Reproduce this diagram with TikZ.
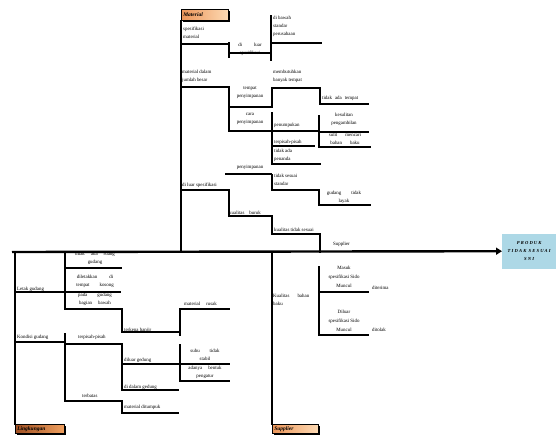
\documentclass[tikz,border=0pt]{standalone}
\usepackage{fontspec}
\setmainfont{Liberation Serif}
\usetikzlibrary{shadows,arrows.meta}
\definecolor{peachL}{RGB}{236,150,90}
\definecolor{peachR}{RGB}{253,218,180}
\definecolor{brownL}{RGB}{160,80,35}
\definecolor{brownR}{RGB}{240,160,95}
\definecolor{effblue}{RGB}{173,216,230}
\begin{document}
\begin{tikzpicture}[x=1pt,y=-1pt,
  ln/.style={line width=1.4pt, line cap=rect},
  thk/.style={line width=2pt, line cap=rect},
  tx/.style={font=\fontsize{4.9}{8}\selectfont, inner sep=0pt, anchor=north west, align=left},
  txc/.style={font=\fontsize{4.9}{8}\selectfont, inner sep=0pt, anchor=north, align=center},
  catbox/.style={draw=black, line width=0.7pt, inner sep=0pt, anchor=north west,
     font=\fontsize{5.5}{6}\selectfont\bfseries\itshape,
     drop shadow={fill=black, opacity=1, shadow xshift=1.2pt, shadow yshift=-1.2pt}},
]
\useasboundingbox (0,0) rectangle (556,434);

% ---------- category boxes ----------
\node[catbox, left color=peachL, right color=peachR, minimum width=47pt, minimum height=11pt,
  text width=45pt, align=left] (mat) at (181,9) {\,Material};
\node[catbox, left color=brownL, right color=brownR, minimum width=49pt, minimum height=9pt,
  text width=47pt, align=left] (ling) at (15,424) {\,Lingkungan};
\node[catbox, left color=peachL, right color=peachR, minimum width=46pt, minimum height=9pt,
  text width=44pt, align=left] (sup) at (272,424) {\,Supplier};
\node[fill=effblue, draw=effblue, minimum width=54pt, minimum height=34pt, inner sep=0pt,
  anchor=north west, align=center,
  font=\fontsize{4.6}{8}\selectfont\bfseries\itshape\addfontfeatures{LetterSpace=25}] (eff) at (502,234)
  {PRODUK\\TIDAK SESUAI\\SNI};

% ---------- spine ----------
\coordinate (sp0) at (12,252);
\draw[line width=2.4pt, -{Triangle[length=6pt,width=7pt]}] (sp0) -- (eff.west);

% ---------- Material branch ----------
\draw[ln] (mat.south west) -- (181,252);
\draw[ln] (181,44) -- (228,44);
\draw[ln] (229,43) -- (229,57);
\draw[ln] (229,53) -- (270,53);
\draw[ln] (271,16) -- (271,60);
\draw[thk] (273,43) -- (321,43);

\draw[ln] (181,87) -- (229,87);
\draw[ln] (229,87) -- (229,131);
\draw[ln] (229,107) -- (271,107);
\draw[ln] (272,88) -- (272,107);
\draw[ln] (272,88) -- (320,88);
\draw[ln] (320,88) -- (320,104);
\draw[ln] (320,104) -- (368,104);

\draw[ln] (229,131) -- (271,131);
\draw[ln] (272,113) -- (272,164);
\draw[ln] (272,131) -- (319,131);
\draw[ln] (319,116) -- (319,147);
\draw[ln] (320,132) -- (368,132);
\draw[ln] (320,147) -- (370,147);
\draw[ln] (272,146) -- (314,146);
\draw[ln] (272,164) -- (320,164);

\draw[ln] (226,174) -- (271,174);
\draw[ln] (272,175) -- (272,190);
\draw[ln] (272,190) -- (319,190);
\draw[ln] (319,190) -- (319,205);
\draw[ln] (319,205) -- (370,205);

\draw[ln] (181,190) -- (229,190);
\draw[ln] (229,190) -- (229,216);
\draw[ln] (229,216) -- (272,216);
\draw[ln] (272,216) -- (272,234);
\draw[ln] (272,234) -- (320,234);
\draw[ln] (320,234) -- (320,252);

% ---------- Lingkungan branch ----------
\draw[ln] (ling.north west) -- (15,252);
\draw[ln] (15,292) -- (63,292);
\draw[ln] (65,252) -- (65,309);
\draw[line width=2.6pt] (65,268) -- (122,268);
\draw[ln] (65,292) -- (120,292);
\draw[ln] (65,309) -- (122,309);
\draw[ln] (122,309) -- (122,332);
\draw[ln] (122,332) -- (178,332);
\draw[ln] (180,309) -- (180,335);
\draw[ln] (180,309) -- (229,309);

\draw[ln] (15,342) -- (63,342);
\draw[ln] (65,334) -- (65,401);
\draw[ln] (65,344) -- (122,344);
\draw[ln] (122,344) -- (122,390);
\draw[ln] (122,364) -- (178,364);
\draw[ln] (122,390) -- (178,390);
\draw[ln] (65,401) -- (120,401);
\draw[ln] (122,401) -- (122,413);
\draw[ln] (122,413) -- (178,413);
\draw[ln] (180,345) -- (180,381);
\draw[ln] (180,364) -- (229,364);
\draw[ln] (180,381) -- (229,381);

% ---------- Supplier branch ----------
\draw[ln] (sup.north west) -- (272,252);
\draw[ln] (319,267) -- (319,335);
\draw[ln] (319,292) -- (368,292);
\draw[ln] (319,335) -- (368,335);

% ---------- texts: Material ----------
\node[tx] (t1) at (183,26.5) {spesifikasi\\material};
\node[txc] (t2) at (250,43) {di\hspace{12pt}luar\\spesifikasi};
\node[tx] (t3) at (273,15.5) {di bawah\\standar\\perusahaan};
\node[tx] (t4) at (182,69.5) {material dalam\\jumlah besar};
\node[txc] (t5) at (250,86.5) {tempat\\penyimpanan};
\node[tx] (t6) at (273,69.5) {membutuhkan\\banyak tempat};
\node[tx] (t7) at (322,95.5) {tidak\hspace{3pt}ada\hspace{3pt}tempat};
\node[txc] (t8) at (250,113) {cara\\penyimpanan};
\node[tx] (t9) at (274,122.5) {penumpukan};
\node[txc] (t10) at (344,113) {kesulitan\\pengambilan};
\node[txc] (t11) at (345,133) {sulit\hspace{8pt}mencari\\bahan\hspace{8pt}baku};
\node[tx] (t12) at (274,139.5) {terpisah-pisah};
\node[tx] (t13) at (274,149) {tidak ada\\penanda};
\node[txc] (t14) at (250,165.5) {penyimpanan};
\node[tx] (t15) at (274,174) {tidak sesuai\\standar};
\node[txc] (t16) at (344,190.5) {gudang\hspace{10pt}tidak\\layak};
\node[tx] (t17) at (182,182.5) {di luar spesifikasi};
\node[tx] (t18) at (229,210.5) {kualitas\hspace{5pt}buruk};
\node[tx] (t19) at (274,227.5) {kualitas tidak sesuai};
\node[tx] (t20) at (333,241.5) {Supplier};

% ---------- texts: Lingkungan ----------
\node[txc] (t21) at (95,251.5) {tidak\hspace{6pt}ada\hspace{6pt}ruang\\gudang};
\node[txc] (t22) at (95,275) {diletakkan\hspace{12pt}di\\tempat\hspace{10pt}kosong};
\node[txc] (t23) at (95,292.5) {pada\hspace{10pt}gudang\\bagian\hspace{6pt}bawah};
\node[tx] (t24) at (17,286.5) {Letak gudang};
\node[tx] (t25) at (124,327.5) {terkena banjir};
\node[tx] (t26) at (184,301.5) {material\hspace{6pt}rusak};
\node[tx] (t27) at (17,334.5) {Kondisi gudang};
\node[tx] (t28) at (78,334.5) {terpisah-pisah};
\node[txc] (t29) at (205,348.5) {suhu\hspace{10pt}tidak\\stabil};
\node[txc] (t30) at (205,366) {adanya\hspace{6pt}bentuk\\pengatur};
\node[tx] (t31) at (124,357.5) {diluar gedung};
\node[tx] (t32) at (124,384.5) {di dalam gedung};
\node[tx] (t33) at (82,393.5) {terbatas};
\node[tx] (t34) at (124,404.5) {material ditumpuk};

% ---------- texts: Supplier ----------
\node[tx] (t35) at (273,294) {Kualitas\hspace{8pt}bahan\\baku};
\node[txc, font=\fontsize{4.9}{9}\selectfont] (t36) at (344,266) {Masuk\\spesifikasi Sido\\Muncul};
\node[tx] (t37) at (372,285.5) {diterima};
\node[txc, font=\fontsize{4.9}{9}\selectfont] (t38) at (344,309.5) {Diluar\\spesifikasi Sido\\Muncul};
\node[tx] (t39) at (372,327.5) {ditolak};
\end{tikzpicture}
\end{document}
